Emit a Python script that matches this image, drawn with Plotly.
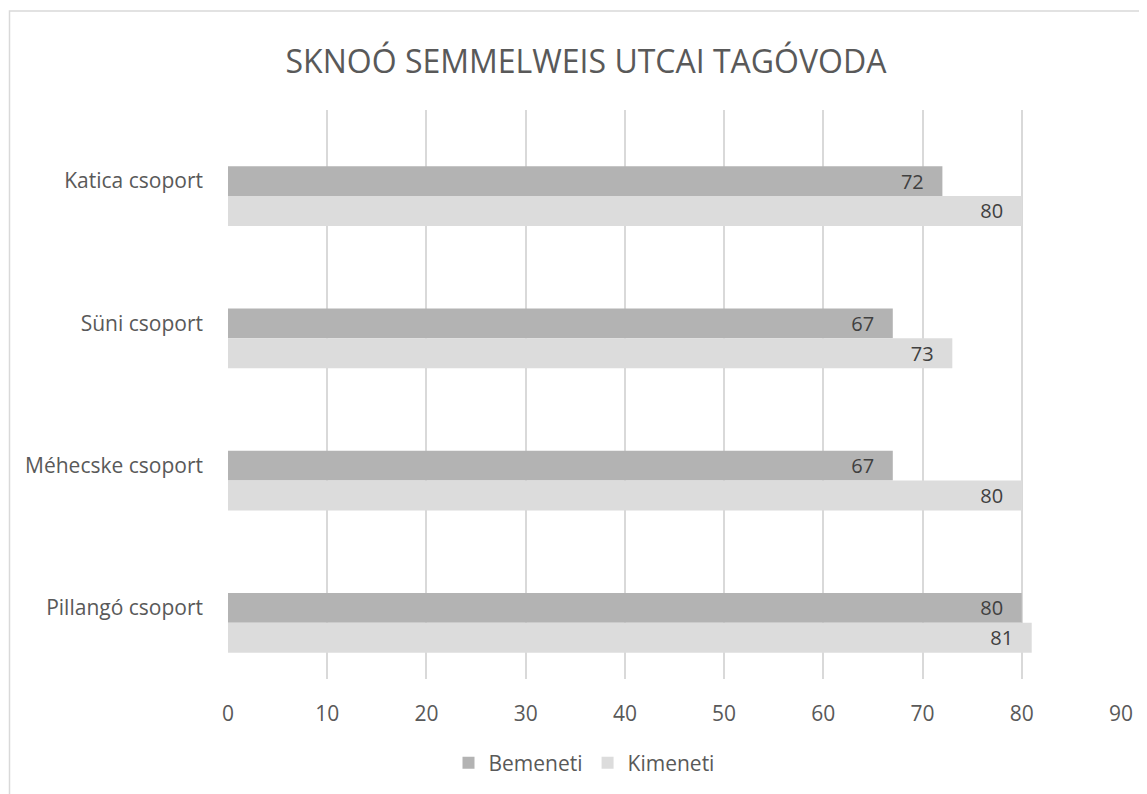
import plotly.graph_objects as go

categories = ["Katica csoport", "Süni csoport", "Méhecske csoport", "Pillangó csoport"]
bemeneti = [72, 67, 67, 80]
kimeneti = [80, 73, 80, 81]
x_ticks = [0, 10, 20, 30, 40, 50, 60, 70, 80, 90]

font_family = "Open Sans, Noto Sans, sans-serif"
pad = "\u00a0\u00a0\u00a0"
bar_w = 0.21

fig = go.Figure()
fig.add_trace(go.Bar(
    name="Bemeneti", y=categories, x=bemeneti, orientation="h",
    width=bar_w, offset=-bar_w / 2,
    marker=dict(color="#b3b3b3", line=dict(width=0)),
    text=[f"{v}{pad}" for v in bemeneti], textposition="inside", insidetextanchor="end",
    constraintext="none",
    textfont=dict(color="#404040", size=20, family=font_family),
))
fig.add_trace(go.Bar(
    name="Kimeneti", y=categories, x=kimeneti, orientation="h",
    width=bar_w, offset=bar_w / 2,
    marker=dict(color="#dcdcdc", line=dict(width=0)),
    text=[f"{v}{pad}" for v in kimeneti], textposition="inside", insidetextanchor="end",
    constraintext="none",
    textfont=dict(color="#404040", size=20, family=font_family),
))

fig.update_layout(
    width=1147, height=794,
    margin=dict(l=220, r=34, t=102, b=123),
    paper_bgcolor="white", plot_bgcolor="white",
    barmode="overlay",
    font=dict(family=font_family, color="#595959"),
    title=dict(text="SKNOÓ SEMMELWEIS UTCAI TAGÓVODA", x=578 / 1147, xref="container",
               xanchor="center", y=1 - 54 / 794, yanchor="middle",
               font=dict(size=32, color="#595959", family=font_family)),
    xaxis=dict(range=[0, 90], tickvals=x_ticks, showgrid=True, gridcolor="#d9d9d9",
               gridwidth=1.5, zeroline=False, showline=False,
               tickfont=dict(size=21, color="#595959"), ticklabelstandoff=20),
    yaxis=dict(categoryorder="array", categoryarray=categories, autorange="reversed",
               showgrid=False, zeroline=False, showline=False, showticklabels=True,
               tickfont=dict(size=21, color="#595959"), ticklabelstandoff=24),
    legend=dict(orientation="h", xref="container", yref="container", x=576 / 1147,
                xanchor="center", y=1 - 755 / 794, yanchor="middle",
                font=dict(size=21, color="#595959"), traceorder="normal"),
    showlegend=True,
    shapes=[dict(type="rect", xref="paper", yref="paper",
                 x0=(1.5 - 220) / 893, x1=1.2, y0=-0.5, y1=(671 - 3) / 569,
                 line=dict(color="#d9d9d9", width=1.5), fillcolor="rgba(0,0,0,0)",
                 layer="below")],
)

fig.write_html("out.html")
